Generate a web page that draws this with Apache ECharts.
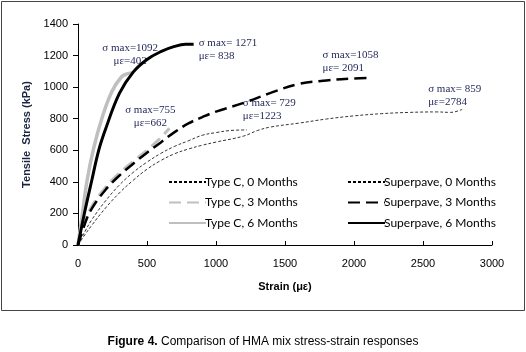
<!DOCTYPE html>
<html>
<head>
<meta charset="utf-8">
<script src="https://cdn.jsdelivr.net/npm/echarts@6/dist/echarts.min.js"></script>
<style>
  html, body { margin: 0; padding: 0; background: #fff; }
  #chart { width: 526px; height: 352px; }
</style>
</head>
<body>
<div id="chart"></div>
<script>
// strain (με) / stress (kPa)
const typeC0Strain = [0, 50, 100, 200, 300, 400, 500, 600, 700, 800, 900, 1000, 1100, 1223];
const typeC0Stress = [0, 85, 160, 280, 380, 460, 525, 580, 625, 660, 695, 712, 725, 729];
const typeC3Strain = [0, 50, 100, 200, 300, 400, 500, 600, 662];
const typeC3Stress = [0, 150, 245, 365, 455, 530, 600, 680, 740];
const typeC6Strain = [0, 31, 66, 114, 174, 245, 316, 360, 400];
const typeC6Stress = [0, 190, 410, 615, 805, 971, 1066, 1085, 1092];
const sp0Strain = [0, 50, 100, 200, 300, 400, 500, 600, 700, 800, 900, 1000, 1200, 1300, 1400, 1600, 1800, 2000, 2200, 2400, 2600, 2700, 2784];
const sp0Stress = [0, 65, 125, 235, 330, 410, 480, 535, 578, 608, 632, 652, 690, 725, 748, 772, 798, 818, 832, 840, 843, 840, 859];
const sp3Strain = [0, 50, 100, 200, 300, 400, 500, 600, 700, 800, 900, 1000, 1200, 1400, 1600, 1800, 2000, 2091];
const sp3Stress = [0, 135, 230, 350, 440, 515, 585, 650, 715, 770, 810, 845, 900, 965, 1020, 1042, 1055, 1058];
const sp6Strain = [0, 50, 100, 150, 200, 300, 400, 500, 600, 700, 780, 838];
const sp6Stress = [0, 215, 410, 600, 735, 960, 1095, 1175, 1225, 1258, 1271, 1271];

const seriesNames = ['Type C, 0 Months', 'Type C, 3 Months', 'Type C, 6 Months',
                     'Superpave, 0 Months', 'Superpave, 3 Months', 'Superpave, 6 Months'];
const notes = ['σ max= 729\nμε=1223', 'σ max=755\nμε=662', 'σ max=1092\nμε=402',
               'σ max= 859\nμε=2784', 'σ max=1058\nμε= 2091', 'σ max= 1271\nμε= 838'];
const xTicks = [0, 3000, 500];
const yTicks = [0, 1400, 200];

const chart = echarts.init(document.getElementById('chart'));

function pairs(xs, ys) {
  return xs.map((x, i) => [x, ys[i]]);
}

// 每条曲线的样式 + 注释位置
function makeSeries(i, xs, ys, color, width, dash, noteAlign, noteOffset) {
  const last = [xs[xs.length - 1], ys[ys.length - 1]];
  return {
    name: seriesNames[i],
    type: 'line',
    data: pairs(xs, ys),
    showSymbol: false,
    symbol: 'none',
    smooth: 0.4,
    z: 2 + i,
    lineStyle: { color: color, width: width, type: dash },
    itemStyle: { color: color },
    markPoint: {
      symbol: 'circle',
      symbolSize: 0,
      silent: true,
      data: [{ coord: last }],
      label: {
        show: true,
        position: 'inside',
        formatter: notes[i],
        align: noteAlign,
        verticalAlign: 'middle',
        offset: noteOffset,
        fontFamily: 'Liberation Serif',
        fontSize: 11,
        lineHeight: 13,
        color: '#262a5c'
      }
    }
  };
}

const legendBase = {
  orient: 'vertical',
  top: 176,
  padding: 0,
  itemWidth: 37, itemHeight: 14, itemGap: 8.5,
  itemStyle: { opacity: 0 },
  textStyle: { fontFamily: 'Lato', fontSize: 12, color: '#000', padding: [0, 0, 0, -6] }
};

const grey = '#bfbfbf';
const option = {
  animation: false,
  grid: { left: 78, right: 34, top: 24, bottom: 107 },
  title: {
    left: 'center',
    top: 331,
    text: '{b|Figure 4.} Comparison of HMA mix stress-strain responses',
    textStyle: {
      fontFamily: 'Liberation Sans', fontSize: 12, fontWeight: 'normal', color: '#000',
      rich: { b: { fontFamily: 'Liberation Sans', fontSize: 12, fontWeight: 'bold', color: '#000' } }
    }
  },
  legend: [
    Object.assign({}, legendBase, { data: seriesNames.slice(0, 3), left: 168 }),
    Object.assign({}, legendBase, { data: seriesNames.slice(3), left: 347 })
  ],
  xAxis: {
    type: 'value',
    min: xTicks[0], max: xTicks[1], interval: xTicks[2],
    name: 'Strain (με)',
    nameLocation: 'middle',
    nameGap: 36,
    nameTextStyle: { fontFamily: 'Liberation Sans', fontSize: 11, fontWeight: 'bold', color: '#000' },
    splitLine: { show: false },
    axisLine: { lineStyle: { color: '#000', width: 1 } },
    axisTick: { inside: true, length: 4, lineStyle: { color: '#000' } },
    axisLabel: { margin: 13, formatter: v => String(v), fontFamily: 'Liberation Sans', fontSize: 11, color: '#000' }
  },
  yAxis: {
    type: 'value',
    min: yTicks[0], max: yTicks[1], interval: yTicks[2],
    name: 'Tensile  Stress (kPa)',
    nameLocation: 'middle',
    nameGap: 43,
    nameTextStyle: { fontFamily: 'Liberation Sans', fontSize: 11, fontWeight: 'bold', color: '#1b2440' },
    splitLine: { show: false },
    axisLine: { show: true, lineStyle: { color: '#000', width: 1 } },
    axisTick: { show: true, length: 5, lineStyle: { color: '#000' } },
    axisLabel: { margin: 10, formatter: v => String(v), fontFamily: 'Liberation Sans', fontSize: 11, color: '#000' }
  },
  series: [
    makeSeries(0, typeC0Strain, typeC0Stress, '#000', 0.8, [3, 2], 'left', [-4, -20]),
    makeSeries(1, typeC3Strain, typeC3Stress, grey, 3, [12, 6], 'center', [-19, -12]),
    makeSeries(2, typeC6Strain, typeC6Stress, grey, 3.5, 'solid', 'center', [-3, -18]),
    makeSeries(3, sp0Strain, sp0Stress, '#000', 0.8, [3, 2], 'left', [-34, -14]),
    makeSeries(4, sp3Strain, sp3Stress, '#000', 2.5, [12, 6], 'left', [-44, -16]),
    makeSeries(5, sp6Strain, sp6Stress, '#000', 3, 'solid', 'left', [5, 5])
  ],
  graphic: [
    {
      type: 'rect',
      shape: { x: 1.5, y: 1.5, width: 523, height: 309 },
      style: { fill: 'none', stroke: '#444', lineWidth: 1 },
      silent: true
    }
  ]
};

chart.setOption(option);
</script>
</body>
</html>
